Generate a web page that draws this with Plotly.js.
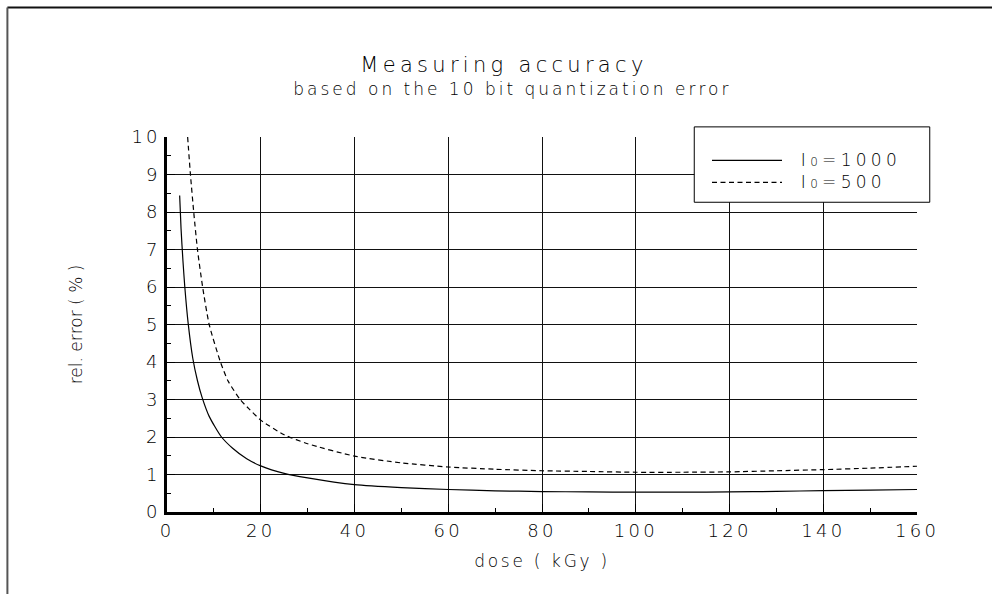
<!DOCTYPE html>
<html>
<head>
<meta charset="utf-8">
<script src="https://cdn.plot.ly/plotly-3.0.1.min.js"></script>
<style>html,body{margin:0;padding:0;background:#fff;}#chart{width:992px;height:594px;}</style>
</head>
<body>
<div id="chart"></div>
<script>
// dose (kGy) and relative error (%)
const doseI1000 = [2.7, 3.0, 3.4, 3.8, 4.5, 5.5, 6.5, 7.5, 9, 11.5, 14, 17, 20, 25, 30, 40, 50, 60, 70, 80, 90, 100, 110, 120, 130, 140, 150, 160];
const errI1000  = [8.44, 7.55, 6.7, 6.0, 5.05, 4.1, 3.5, 3.05, 2.55, 2.02, 1.70, 1.42, 1.23, 1.03, 0.91, 0.73, 0.65, 0.60, 0.565, 0.545, 0.535, 0.53, 0.53, 0.535, 0.55, 0.57, 0.585, 0.60];
const doseI500  = [4.4, 5.0, 5.7, 6.5, 7.6, 9.0, 11.4, 13, 15.6, 17.5, 20, 25, 30, 40, 50, 60, 70, 80, 90, 100, 110, 120, 130, 140, 150, 160];
const errI500   = [10, 9, 8, 7, 6, 5, 4, 3.5, 3, 2.75, 2.45, 2.06, 1.82, 1.49, 1.31, 1.20, 1.14, 1.10, 1.08, 1.06, 1.06, 1.07, 1.10, 1.13, 1.17, 1.22];
const seriesNames = ['I₀=1000', 'I₀=500'];
const xTicks = [0, 20, 40, 60, 80, 100, 120, 140, 160];
const yTicks = [0, 1, 2, 3, 4, 5, 6, 7, 8, 9, 10];
const titleMain = 'Measuring accuracy';
const titleSub = 'based on the 10 bit quantization error';
const xTitle = 'dose ( kGy )';
const yTitle = 'rel. error ( % )';

const FONT = 'DejaVu Sans, Liberation Sans, sans-serif';
const INK = '#000';

const spaced = (s, ls) => '<span style="letter-spacing:' + ls + 'px">' + s + '</span>';
const legendLabel = s => {
  const m = s.split('₀');
  return '\u00A0\u00A0\u00A0' + '<span style="font-size:17px;letter-spacing:4.3px">' + m[0] +
         '<span style="font-size:12px">0</span>' + m[1] + '</span>';
};

const traces = [
  {x: doseI1000, y: errI1000, name: legendLabel(seriesNames[0]), type: 'scatter', mode: 'lines',
   line: {color: INK, width: 1.2, shape: 'spline', smoothing: 0.6}},
  {x: doseI500, y: errI500, name: legendLabel(seriesNames[1]), type: 'scatter', mode: 'lines',
   line: {color: INK, width: 1.2, dash: '5px,3.5px', shape: 'spline', smoothing: 0.6}}
];

const layout = {
  width: 992, height: 594,
  margin: {l: 167, r: 75, t: 137, b: 82},
  paper_bgcolor: '#fff', plot_bgcolor: '#fff',
  font: {family: FONT, color: INK, size: 17, weight: 300},
  title: {
    text: '<span style="font-size:21px;letter-spacing:4.3px">' + titleMain + '</span><br>' +
          '<span style="font-size:17px;letter-spacing:3px">\u00A0\u00A0' + titleSub + '</span>',
    x: 0.508, xanchor: 'center', xref: 'container',
    y: 1 - 72/594, yanchor: 'top', yref: 'container',
    font: {family: FONT, size: 18, color: INK, weight: 300}
  },
  xaxis: {
    range: [0, 160], tickvals: xTicks, ticktext: xTicks.map(v => spaced(String(v), 3.3)),
    showline: true, linecolor: INK, linewidth: 3,
    showgrid: true, gridcolor: '#111', gridwidth: 1,
    ticks: 'inside', ticklen: 8, tickcolor: INK, tickwidth: 1,
    minor: {dtick: 10, tick0: 0, ticks: 'inside', ticklen: 4, tickcolor: INK, showgrid: false},
    zeroline: false, fixedrange: true,
    tickfont: {family: FONT, size: 18, color: INK, weight: 300},
    title: {text: spaced(xTitle, 2.7), standoff: 16, font: {family: FONT, size: 17, color: INK, weight: 300}}
  },
  yaxis: {
    range: [0, 10], tickvals: yTicks, ticktext: yTicks.map(v => spaced(String(v), 3)),
    showline: true, linecolor: INK, linewidth: 3,
    showgrid: true, gridcolor: '#111', gridwidth: 1,
    ticks: 'inside', ticklen: 8, tickcolor: INK, tickwidth: 1,
    minor: {dtick: 0.5, tick0: 0, ticks: 'inside', ticklen: 4, tickcolor: INK, showgrid: false},
    zeroline: false, fixedrange: true,
    tickfont: {family: FONT, size: 18, color: INK, weight: 300},
    title: {text: yTitle, standoff: 45, font: {family: FONT, size: 17, color: INK, weight: 300}}
  },
  showlegend: true,
  legend: {
    x: 0.72, xanchor: 'left', y: 0.98, yanchor: 'top',
    bgcolor: 'rgba(0,0,0,0)', borderwidth: 0,
    itemwidth: 70, tracegroupgap: 0,
    font: {family: FONT, size: 14.5, color: INK, weight: 300}
  },
  shapes: [
    // legend frame
    {type: 'rect', xref: 'paper', yref: 'paper', x0: 0.703, x1: 1.017, y0: 0.826, y1: 1.027,
     fillcolor: '#fff', line: {color: INK, width: 1}, layer: 'above'},
    // outer page frame (top and left edges)
    {type: 'line', xref: 'paper', yref: 'paper', x0: -0.2128, x1: 1.2, y0: 1.3453, y1: 1.3453,
     line: {color: '#111', width: 2}},
    {type: 'line', xref: 'paper', yref: 'paper', x0: -0.2128, x1: -0.2128, y0: 1.3453, y1: -0.3,
     line: {color: '#555', width: 2}}
  ]
};

Plotly.newPlot('chart', traces, layout, {displayModeBar: false, staticPlot: true});
</script>
</body>
</html>
